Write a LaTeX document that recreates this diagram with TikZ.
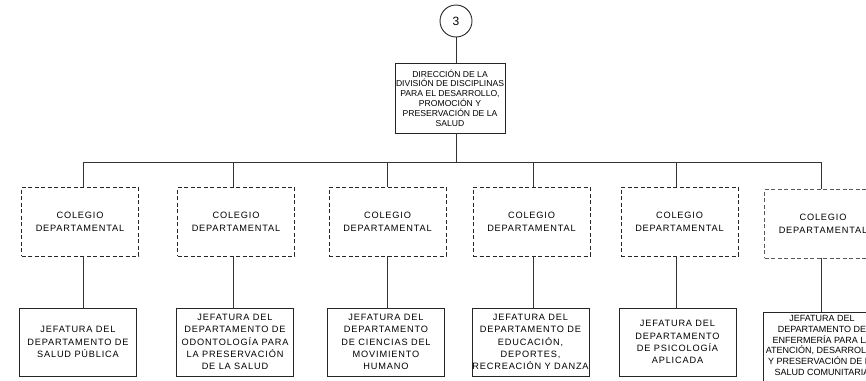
\documentclass[tikz,border=0pt]{standalone}
\usepackage{fontspec}
\setmainfont{Liberation Sans}
\newfontfamily\jefont[LetterSpace=9]{Liberation Sans}
\newfontfamily\cofont[LetterSpace=9]{Liberation Sans}
\newfontfamily\enfont[LetterSpace=0]{Liberation Sans}
\begin{document}
\begin{tikzpicture}[x=1pt,y=-1pt,
  conn/.style={draw=black!80, line width=0.9pt},
  dirbox/.style={draw=black!85, line width=0.9pt, minimum width=110pt, minimum height=70pt, inner sep=0pt, align=center, font=\fontsize{8.6}{9.8}\selectfont},
  colbox/.style={draw=black!85, dash pattern=on 4pt off 2.5pt, line width=0.9pt, minimum width=117pt, minimum height=69pt, inner sep=0pt, align=center, font=\cofont\fontsize{9.2}{13.3}\selectfont},
  jefbox/.style={draw=black!85, line width=0.9pt, minimum width=117pt, minimum height=68pt, inner sep=0pt, align=center, font=\jefont\fontsize{9.2}{12.2}\selectfont},
  enfbox/.style={draw=black!85, line width=0.9pt, minimum width=117pt, minimum height=72pt, inner sep=0pt},
  enftext/.style={inner sep=0pt, align=center, font=\enfont\fontsize{9}{10.8}\selectfont},
  circ/.style={draw=black!85, line width=0.9pt, circle, minimum size=32pt, inner sep=0pt, font=\fontsize{12}{14}\selectfont}]
\useasboundingbox (0,0) rectangle (866,380);
\clip (0,0) rectangle (866,380);
\fill[white] (0,0) rectangle (866,380);

\node[circ] (top) at (456,21) {3};
\node[dirbox] (dir) at (450,98) {DIRECCIÓN DE LA\\DIVISIÓN DE DISCIPLINAS\\PARA EL DESARROLLO,\\PROMOCIÓN Y\\PRESERVACIÓN DE LA\\SALUD};

\coordinate (bus) at (456,162);
\coordinate (b1) at (83,162);
\coordinate (b2) at (233,162);
\coordinate (b3) at (387,162);
\coordinate (b4) at (533,162);
\coordinate (b5) at (676,162);
\coordinate (b6) at (821,162);

\node[colbox] (c1) at (80,221.5) {COLEGIO\\DEPARTAMENTAL};
\node[colbox] (c2) at (236,221.5) {COLEGIO\\DEPARTAMENTAL};
\node[colbox] (c3) at (387.5,221.5) {COLEGIO\\DEPARTAMENTAL};
\node[colbox] (c4) at (531.5,221.5) {COLEGIO\\DEPARTAMENTAL};
\node[colbox] (c5) at (679.5,221.5) {COLEGIO\\DEPARTAMENTAL};
\node[colbox, draw=black!65] (c6) at (823,223.5) {COLEGIO\\DEPARTAMENTAL};

\node[jefbox] (j1) at (78,342) {JEFATURA DEL\\DEPARTAMENTO DE\\SALUD PÚBLICA};
\node[jefbox] (j2) at (235,342) {JEFATURA DEL\\DEPARTAMENTO DE\\ODONTOLOGÍA PARA\\LA PRESERVACIÓN\\DE LA SALUD};
\node[jefbox] (j3) at (386,342) {JEFATURA DEL\\DEPARTAMENTO\\DE CIENCIAS DEL\\MOVIMIENTO\\HUMANO};
\node[jefbox] (j4) at (530.5,342) {JEFATURA DEL\\DEPARTAMENTO DE\\EDUCACIÓN,\\DEPORTES,\\RECREACIÓN Y DANZA};
\node[jefbox] (j5) at (677.5,342) {JEFATURA DEL\\DEPARTAMENTO\\DE PSICOLOGÍA\\APLICADA};
\node[enfbox] (j6) at (821.5,348) {};
\node[enftext] (j6t) at (822,345.5) {JEFATURA DEL\\DEPARTAMENTO DE\\ENFERMERÍA PARA LA\\ATENCIÓN, DESARROLLO\\Y PRESERVACIÓN DE LA\\SALUD COMUNITARIA};

\draw[conn] (top.south -| bus) -- (bus |- dir.north);
\draw[conn] (bus |- dir.south) -- (bus);
\draw[conn] (b1) -- (b6);
\foreach \i in {1,...,6}{
  \draw[conn] (b\i) -- (b\i |- c\i.north);
  \draw[conn] (b\i |- c\i.south) -- (b\i |- j\i.north);
}
\end{tikzpicture}
\end{document}
